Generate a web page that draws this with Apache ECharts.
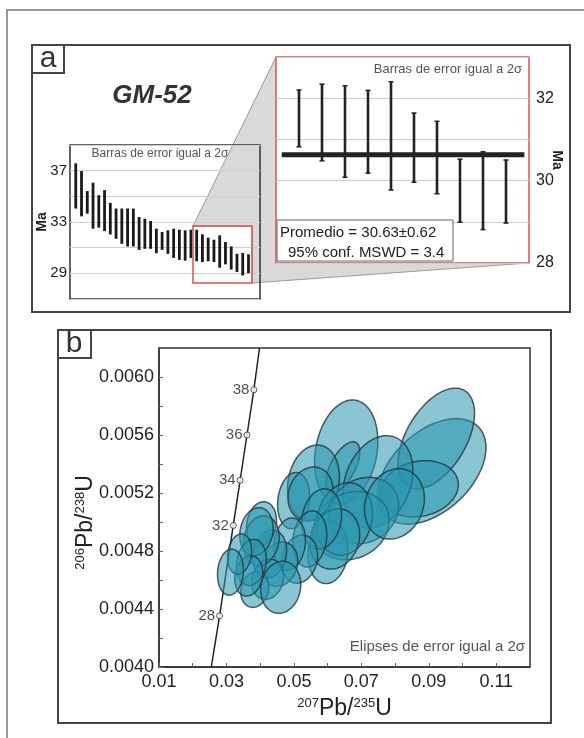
<!DOCTYPE html>
<html>
<head>
<meta charset="utf-8">
<script src="https://cdn.jsdelivr.net/npm/echarts@6/dist/echarts.min.js"></script>
<style>
html, body { margin: 0; padding: 0; background: #fff; }
#main { width: 584px; height: 738px; }
</style>
</head>
<body>
<div id="main"></div>
<script>
// panel a: edades (Ma) con barras de error 2 sigma
var ageHi = [37.57, 36.97, 35.41, 36.06, 35.09, 35.48, 34.49, 34.05, 34.05, 34.05, 34.05, 33.39, 33.26, 33.08, 32.48, 32.22,
             32.35, 32.48, 32.40, 32.35, 32.40, 32.40, 32.04, 31.78, 31.62, 31.96, 31.44, 31.10, 30.52, 30.58, 30.48];
var ageLo = [34.05, 33.44, 33.65, 32.48, 32.56, 32.29, 32.03, 31.69, 31.30, 31.09, 31.09, 30.83, 30.91, 30.91, 30.57, 30.83,
             30.52, 30.20, 30.05, 29.99, 30.20, 29.94, 29.88, 29.94, 29.88, 29.44, 29.70, 29.29, 29.10, 28.84, 29.02];
// detalle (recuadro rojo)
var zoomHi = [32.20, 32.34, 32.30, 32.19, 32.40, 31.64, 31.44, 30.52, 30.70, 30.50];
var zoomLo = [30.82, 30.48, 30.08, 30.18, 29.77, 29.96, 29.68, 28.99, 28.81, 28.97];
var meanAge = 30.63;
var meanErr = 0.62;
var mswd = 3.4;
var smallTicks = [29, 33, 37];
var zoomTicks = [28, 30, 32];

// panel b: elipses 2 sigma
var ellX   = [0.0909, 0.0922, 0.0872, 0.0655, 0.0645, 0.0749, 0.0558, 0.0707, 0.0670, 0.0601, 0.0499, 0.0549, 0.0650, 0.0798, 0.0621,
              0.0582, 0.0547, 0.0517, 0.0487, 0.0458, 0.0428, 0.0422, 0.0404, 0.0403, 0.0389, 0.0384, 0.0374, 0.0366, 0.0339, 0.0312, 0.0461];
var ellY   = [0.005349, 0.005576, 0.005229, 0.005484, 0.005380, 0.005276, 0.005271, 0.005079, 0.004975, 0.004790, 0.005148, 0.005194, 0.005021, 0.005125, 0.004883,
              0.005021, 0.004883, 0.004744, 0.004848, 0.004709, 0.004779, 0.004605, 0.004987, 0.004871, 0.004933, 0.004536, 0.004721, 0.004628, 0.004779, 0.004654, 0.004550];
var ellSX  = [0.01606, 0.01135, 0.01156, 0.00939, 0.00504, 0.01037, 0.00770, 0.01037, 0.01126, 0.00593, 0.00474, 0.00667, 0.00830, 0.00889, 0.00741,
              0.00593, 0.00504, 0.00533, 0.00474, 0.00533, 0.00504, 0.00474, 0.00444, 0.00533, 0.00495, 0.00415, 0.00444, 0.00415, 0.00356, 0.00385, 0.00593];
var ellSY  = [0.000364, 0.000347, 0.000194, 0.000358, 0.000173, 0.000319, 0.000260, 0.000229, 0.000236, 0.000215, 0.000194, 0.000185, 0.000250, 0.000243, 0.000208,
              0.000208, 0.000194, 0.000166, 0.000180, 0.000153, 0.000166, 0.000139, 0.000153, 0.000173, 0.000166, 0.000125, 0.000159, 0.000139, 0.000139, 0.000159, 0.000180];
var ellRho = [0.45, 0.5, 0.15, 0.2, 0.6, 0.25, 0.15, 0.15, 0.15, 0.1, 0.15, 0.15, 0.15, 0.15, 0.15,
              0.15, 0.15, 0.15, 0.15, 0.15, 0.15, 0.15, 0.15, 0.15, 0.15, 0.15, 0.15, 0.15, 0.15, 0.1, 0.1];

// concordia
var concX = [0.0255, 0.02796, 0.02999, 0.03202, 0.03405, 0.03609, 0.03813, 0.0398];
var concY = [0.0040, 0.004353, 0.004665, 0.004976, 0.005288, 0.005600, 0.005912, 0.0062];
var concAge = ['', '28', '', '32', '34', '36', '38', ''];

var FONT = 'Liberation Sans, Arial, sans-serif';

var smallData = ageHi.map(function (h, i) { return [i + 1, ageLo[i], h]; });
var zoomData = zoomHi.map(function (h, i) { return [i + 1, zoomLo[i], h]; });
var ellData = ellX.map(function (x, i) { return [x, ellY[i], ellSX[i], ellSY[i], ellRho[i]]; });
var concLine = concX.map(function (x, i) { return [x, concY[i]]; });
var concPts = [];
concX.forEach(function (x, i) {
    if (concAge[i]) concPts.push({ value: [x, concY[i]], name: concAge[i] });
});

function renderBar(params, api) {
    var top = api.coord([api.value(0), api.value(2)]);
    var bot = api.coord([api.value(0), api.value(1)]);
    return {
        type: 'rect',
        shape: { x: top[0] - 1.4, y: top[1], width: 2.8, height: bot[1] - top[1] },
        style: { fill: '#1a1a1a' }
    };
}

function renderZoomBar(params, api) {
    var top = api.coord([api.value(0), api.value(2)]);
    var bot = api.coord([api.value(0), api.value(1)]);
    var cap = { stroke: '#222', lineWidth: 1.5 };
    return {
        type: 'group',
        children: [
            { type: 'line', shape: { x1: top[0], y1: top[1], x2: bot[0], y2: bot[1] }, style: { stroke: '#222', lineWidth: 2.6 } },
            { type: 'line', shape: { x1: top[0] - 2.5, y1: top[1], x2: top[0] + 2.5, y2: top[1] }, style: cap },
            { type: 'line', shape: { x1: bot[0] - 2.5, y1: bot[1], x2: bot[0] + 2.5, y2: bot[1] }, style: cap }
        ]
    };
}

function renderEllipse(params, api) {
    var x = api.value(0), y = api.value(1), sx = api.value(2), sy = api.value(3), r = api.value(4);
    var k = Math.sqrt(1 - r * r);
    var pts = [];
    for (var i = 0; i < 72; i++) {
        var t = i / 72 * Math.PI * 2;
        pts.push(api.coord([x + sx * Math.cos(t), y + sy * (r * Math.cos(t) + k * Math.sin(t))]));
    }
    return {
        type: 'polygon',
        shape: { points: pts },
        style: { fill: 'rgba(40,150,175,0.55)', stroke: 'rgba(35,55,60,0.8)', lineWidth: 1.5 }
    };
}

function txt(x, y, text, font, color, align) {
    return {
        type: 'text', x: x, y: y, z: 20,
        style: { text: text, font: font, fill: color || '#222', align: align || 'left', textAlign: align || 'left',
                 verticalAlign: 'middle', textVerticalAlign: 'middle' }
    };
}

var supRich = {
    s: { fontSize: 13, fontFamily: FONT, color: '#222', verticalAlign: 'top' },
    b: { fontSize: 23, fontFamily: FONT, color: '#222' }
};

var option = {
    animation: false,
    textStyle: { fontFamily: FONT },
    grid: [
        { left: 70, top: 145, width: 190, height: 154, show: true, borderColor: '#333', borderWidth: 1.5 },
        { left: 276, top: 57, width: 253, height: 206, show: true, borderColor: '#d9534f', borderWidth: 1.5 },
        { left: 159, top: 348, width: 371, height: 319, show: true, borderColor: '#333', borderWidth: 1.5 }
    ],
    xAxis: [
        { gridIndex: 0, type: 'value', min: 0, max: 33, show: false },
        { gridIndex: 1, type: 'value', min: 0, max: 11, show: false },
        {
            gridIndex: 2, type: 'value', min: 0.01, max: 0.12, interval: 0.01,
            axisLine: { lineStyle: { color: '#333', width: 1.5 } },
            axisTick: { inside: true, length: 4, lineStyle: { color: '#666' } },
            splitLine: { show: false },
            axisLabel: {
                fontSize: 18, color: '#222', margin: 6,
                formatter: function (v) { return Math.round(v * 100) % 2 === 1 ? v.toFixed(2) : ''; }
            },
            name: '{s|207}{b|Pb/}{s|235}{b|U}', nameLocation: 'middle', nameGap: 30, nameMoveOverlap: false,
            nameTextStyle: { rich: supRich }
        }
    ],
    yAxis: [
        {
            gridIndex: 0, type: 'value', min: 27, max: 39, interval: 2,
            axisLine: { show: false }, axisTick: { show: false },
            splitLine: { lineStyle: { color: '#cfcfcf' } },
            axisLabel: {
                fontSize: 15, color: '#222', margin: 3,
                formatter: function (v) { return smallTicks.indexOf(v) >= 0 ? String(v) : ''; }
            },
            name: 'Ma', nameLocation: 'middle', nameGap: 21, nameRotate: 90, nameMoveOverlap: false,
            nameTextStyle: { fontSize: 14, fontWeight: 'bold', color: '#222' }
        },
        {
            gridIndex: 1, type: 'value', min: 28, max: 33, interval: 1, position: 'right',
            axisLine: { show: false }, axisTick: { show: false },
            splitLine: { lineStyle: { color: '#cfcfcf' } },
            axisLabel: {
                fontSize: 16, color: '#222', margin: 7,
                formatter: function (v) { return zoomTicks.indexOf(v) >= 0 ? String(v) : ''; }
            },
            name: 'Ma', nameLocation: 'middle', nameGap: 21, nameRotate: -90, nameMoveOverlap: false,
            nameTextStyle: { fontSize: 14, fontWeight: 'bold', color: '#222' }
        },
        {
            gridIndex: 2, type: 'value', min: 0.004, max: 0.0062, interval: 0.0002,
            axisLine: { lineStyle: { color: '#333', width: 1.5 } },
            axisTick: { inside: true, length: 4, lineStyle: { color: '#666' } },
            splitLine: { show: false },
            axisLabel: {
                fontSize: 18, color: '#222', margin: 5,
                formatter: function (v) { return Math.round(v * 10000) % 4 === 0 ? v.toFixed(4) : ''; }
            },
            name: '{s|206}{b|Pb/}{s|238}{b|U}', nameLocation: 'middle', nameGap: 62, nameRotate: 90, nameMoveOverlap: false,
            nameTextStyle: { rich: supRich, padding: [0, 30, 0, 0] }
        }
    ],
    series: [
        { type: 'custom', xAxisIndex: 0, yAxisIndex: 0, renderItem: renderBar, data: smallData, encode: { x: 0, y: [1, 2] }, z: 3 },
        {
            type: 'line', xAxisIndex: 1, yAxisIndex: 1, symbol: 'none', z: 2,
            lineStyle: { color: '#222', width: 5 },
            data: [[0.25, meanAge], [10.8, meanAge]]
        },
        { type: 'custom', xAxisIndex: 1, yAxisIndex: 1, renderItem: renderZoomBar, data: zoomData, encode: { x: 0, y: [1, 2] }, z: 3 },
        {
            type: 'line', xAxisIndex: 2, yAxisIndex: 2, symbol: 'none', z: 1,
            lineStyle: { color: '#222', width: 1.5 },
            data: concLine
        },
        {
            type: 'scatter', xAxisIndex: 2, yAxisIndex: 2, z: 1,
            symbol: 'circle', symbolSize: 6,
            itemStyle: { color: '#fff', borderColor: '#333', borderWidth: 1 },
            label: { show: true, position: 'left', distance: 1, fontSize: 15, color: '#222', formatter: '{b}' },
            data: concPts
        },
        { type: 'custom', xAxisIndex: 2, yAxisIndex: 2, renderItem: renderEllipse, data: ellData, encode: { x: 0, y: 1 }, z: 2 }
    ],
    graphic: [
        { type: 'rect', z: -20, shape: { x: 7, y: 10, width: 620, height: 760 }, style: { fill: 'none', stroke: '#777', lineWidth: 1.5 } },
        { type: 'rect', z: -20, shape: { x: 32, y: 45, width: 538, height: 267 }, style: { fill: 'none', stroke: '#444', lineWidth: 2 } },
        { type: 'rect', z: 20, shape: { x: 32, y: 45, width: 32, height: 28 }, style: { fill: '#fff', stroke: '#444', lineWidth: 2 } },
        txt(48, 59, 'a', '30px ' + FONT, '#333', 'center'),
        { type: 'rect', z: -20, shape: { x: 58, y: 330, width: 493, height: 393 }, style: { fill: 'none', stroke: '#444', lineWidth: 2 } },
        { type: 'rect', z: 20, shape: { x: 58, y: 330, width: 33, height: 28 }, style: { fill: '#fff', stroke: '#444', lineWidth: 2 } },
        txt(74, 344, 'b', '30px ' + FONT, '#333', 'center'),
        // lupa
        {
            type: 'polygon', z: -6,
            shape: { points: [[193, 226], [276, 57], [529, 263], [252, 283], [252, 226]] },
            style: { fill: '#d9d9d9', stroke: '#9a9a9a', lineWidth: 1 }
        },
        { type: 'rect', z: -5, shape: { x: 276, y: 57, width: 253, height: 206 }, style: { fill: '#fff' } },
        { type: 'rect', z: 10, shape: { x: 193, y: 226, width: 59, height: 57 }, style: { fill: 'none', stroke: '#d9534f', lineWidth: 1.5 } },
        txt(152, 96, 'GM-52', 'italic bold 26px ' + FONT, '#333', 'center'),
        txt(160, 154, 'Barras de error igual a 2σ', '12px ' + FONT, '#555', 'center'),
        txt(522, 69, 'Barras de error igual a 2σ', '13px ' + FONT, '#555', 'right'),
        { type: 'rect', z: 15, shape: { x: 277, y: 220, width: 176, height: 41 }, style: { fill: '#fff', stroke: '#666', lineWidth: 1 } },
        txt(280, 233, 'Promedio = ' + meanAge.toFixed(2) + '±' + meanErr.toFixed(2), '15px ' + FONT, '#222', 'left'),
        txt(288, 253, '95% conf. MSWD = ' + mswd, '15px ' + FONT, '#222', 'left'),
        txt(525, 647, 'Elipses de error igual a 2σ', '15px ' + FONT, '#555', 'right')
    ]
};

var chart = echarts.init(document.getElementById('main'));
chart.setOption(option);
</script>
</body>
</html>
